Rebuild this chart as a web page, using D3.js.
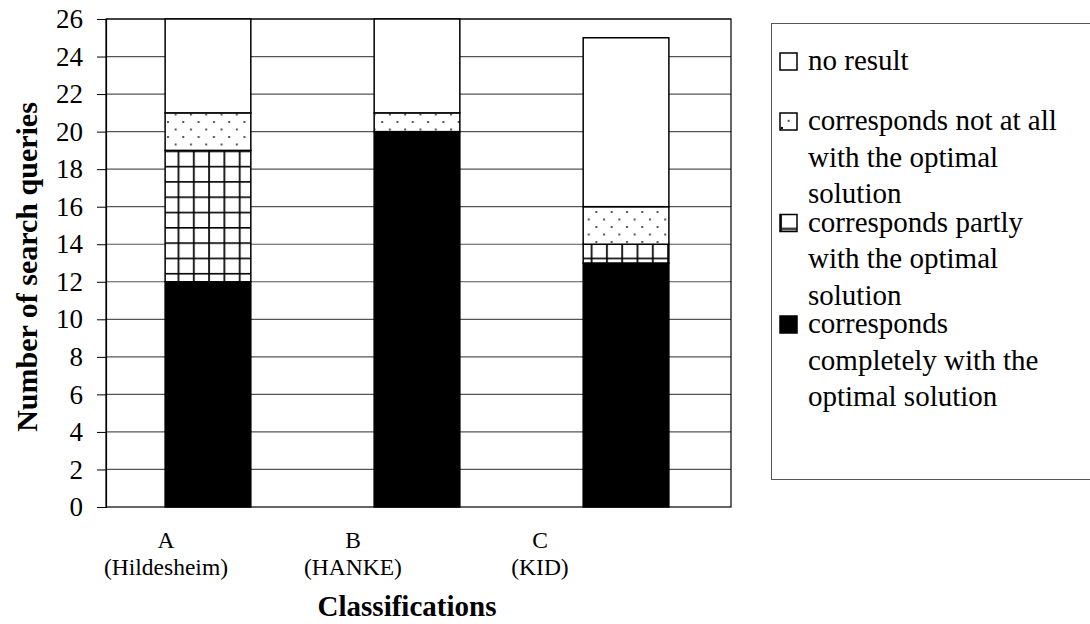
<!DOCTYPE html>
<html>
<head>
<meta charset="utf-8">
<script src="https://cdn.jsdelivr.net/npm/d3@7"></script>
<style>
  body { margin: 0; background: #fff; }
  text { font-family: "Liberation Serif", "Times New Roman", serif; fill: #000; }
</style>
</head>
<body>
<script>

// DATI

var categories = ["A", "B", "C"];
var categoryNames = ["(Hildesheim)", "(HANKE)", "(KID)"];
var complete = [12, 20, 13];
var partly = [7, 0, 1];
var notAtAll = [2, 1, 2];
var noResult = [5, 5, 9];
var yTicks = [0, 2, 4, 6, 8, 10, 12, 14, 16, 18, 20, 22, 24, 26];
var seriesKeys = ["complete", "partly", "notAtAll", "noResult"];
var legendLines = [
    ["no result"],
    ["corresponds not at all", "with the optimal", "solution"],
    ["corresponds partly", "with the optimal", "solution"],
    ["corresponds", "completely with the", "optimal solution"]
];
var legendKeys = ["noResult", "notAtAll", "partly", "complete"];

var width = 1090, height = 624;
var plotLeft = 106, plotRight = 731, plotTop = 19, plotBottom = 507;

var svg = d3.select("body").append("svg")
    .attr("width", width)
    .attr("height", height);

// PATTERN

var defs = svg.append("defs");

var dots = defs.append("pattern")
    .attr("id", "dots")
    .attr("patternUnits", "userSpaceOnUse")
    .attr("x", 166).attr("y", 120)
    .attr("width", 15.3).attr("height", 15);
dots.append("rect").attr("width", 15.3).attr("height", 15).attr("fill", "white");
dots.append("rect").attr("x", 1).attr("y", 1).attr("width", 2).attr("height", 2).attr("fill", "#555");
dots.append("rect").attr("x", 8.65).attr("y", 8.5).attr("width", 2).attr("height", 2).attr("fill", "#555");

var grid = defs.append("pattern")
    .attr("id", "grid")
    .attr("patternUnits", "userSpaceOnUse")
    .attr("x", 177.5).attr("y", 150.5)
    .attr("width", 15.3).attr("height", 15.3);
grid.append("rect").attr("width", 15.3).attr("height", 15.3).attr("fill", "white");
grid.append("rect").attr("x", 0).attr("y", 0).attr("width", 2).attr("height", 15.3).attr("fill", "#222");
grid.append("rect").attr("x", 0).attr("y", 0).attr("width", 15.3).attr("height", 1.6).attr("fill", "#000");

// pattern piccoli per la legenda
var dotsLegend = defs.append("pattern")
    .attr("id", "dotsLegend")
    .attr("patternUnits", "objectBoundingBox")
    .attr("patternContentUnits", "objectBoundingBox")
    .attr("width", 1).attr("height", 1);
dotsLegend.append("rect").attr("width", 1).attr("height", 1).attr("fill", "white");
dotsLegend.append("rect").attr("x", 0.45).attr("y", 0.4).attr("width", 0.12).attr("height", 0.12).attr("fill", "#555");
dotsLegend.append("rect").attr("x", 0.05).attr("y", 0.82).attr("width", 0.12).attr("height", 0.12).attr("fill", "#000");

var gridLegend = defs.append("pattern")
    .attr("id", "gridLegend")
    .attr("patternUnits", "objectBoundingBox")
    .attr("patternContentUnits", "objectBoundingBox")
    .attr("width", 1).attr("height", 1);
gridLegend.append("rect").attr("width", 1).attr("height", 1).attr("fill", "white");
gridLegend.append("rect").attr("x", 0).attr("y", 0.78).attr("width", 1).attr("height", 0.14).attr("fill", "#222");
gridLegend.append("rect").attr("x", 0).attr("y", 0).attr("width", 0.12).attr("height", 1).attr("fill", "#222");

var fills = {
    complete: "#000",
    partly: "url(#grid)",
    notAtAll: "url(#dots)",
    noResult: "#fff"
};

var legendFills = {
    complete: "#000",
    partly: "url(#gridLegend)",
    notAtAll: "url(#dotsLegend)",
    noResult: "#fff"
};

// SCALE

var x = d3.scaleBand()
    .domain(categories)
    .range([plotLeft, plotRight])
    .paddingInner(0.59)
    .paddingOuter(0.29);

var y = d3.scaleLinear()
    .domain([0, 26])
    .range([plotBottom, plotTop]);

var labelX = d3.scalePoint()
    .domain(categories)
    .range([166, 540]);

// GRIGLIA E ASSE Y

svg.append("g")
    .selectAll("line")
    .data(yTicks.slice(1))
    .join("line")
    .attr("x1", plotLeft).attr("x2", plotRight)
    .attr("y1", function(d) { return y(d); })
    .attr("y2", function(d) { return y(d); })
    .attr("stroke", "#555")
    .attr("stroke-width", 1.2);

svg.append("rect")
    .attr("x", plotLeft).attr("y", plotTop)
    .attr("width", plotRight - plotLeft).attr("height", plotBottom - plotTop)
    .attr("fill", "none")
    .attr("stroke", "#000")
    .attr("stroke-width", 1.2);

var yAxis = svg.append("g")
    .attr("transform", "translate(" + plotLeft + ",0)")
    .call(d3.axisLeft(y).tickValues(yTicks).tickSize(9).tickPadding(14));
yAxis.select(".domain").attr("stroke", "#000").attr("stroke-width", 1.2);
yAxis.selectAll("line").attr("stroke", "#000");
yAxis.selectAll("text")
    .style("font-family", "'Liberation Serif', 'Times New Roman', serif")
    .style("font-size", "27px");

// BARRE

var rows = categories.map(function(c, i) {
    return { cat: c, complete: complete[i], partly: partly[i], notAtAll: notAtAll[i], noResult: noResult[i] };
});

var stacked = d3.stack().keys(seriesKeys)(rows);

svg.append("g")
    .selectAll("g")
    .data(stacked)
    .join("g")
    .attr("fill", function(s) { return fills[s.key]; })
    .selectAll("rect")
    .data(function(s) { return s.filter(function(d) { return d[1] > d[0]; }); })
    .join("rect")
    .attr("x", function(d) { return x(d.data.cat) - 1.5; })
    .attr("y", function(d) { return y(d[1]); })
    .attr("width", x.bandwidth())
    .attr("height", function(d) { return y(d[0]) - y(d[1]); })
    .attr("stroke", "#000")
    .attr("stroke-width", 1.5);

// ETICHETTE CATEGORIE

var catLabels = svg.append("g")
    .selectAll("text")
    .data(categories)
    .join("text")
    .attr("text-anchor", "middle")
    .attr("font-size", "23.5px");
catLabels.append("tspan")
    .attr("x", function(d) { return labelX(d); })
    .attr("y", 548)
    .text(function(d) { return d; });
catLabels.append("tspan")
    .attr("x", function(d) { return labelX(d); })
    .attr("y", 575)
    .text(function(d, i) { return categoryNames[i]; });

// TITOLI ASSI

svg.append("text")
    .attr("x", 407).attr("y", 616)
    .attr("text-anchor", "middle")
    .attr("font-size", "29px")
    .attr("font-weight", "bold")
    .text("Classifications");

svg.append("text")
    .attr("transform", "translate(37,267) rotate(-90)")
    .attr("text-anchor", "middle")
    .attr("font-size", "30px")
    .attr("font-weight", "bold")
    .text("Number of search queries");

// LEGENDA

svg.append("rect")
    .attr("x", 771.5).attr("y", 23.5)
    .attr("width", 330).attr("height", 456)
    .attr("fill", "none")
    .attr("stroke", "#555")
    .attr("stroke-width", 1);

var legend = svg.append("g")
    .selectAll("g")
    .data(legendKeys)
    .join("g")
    .attr("transform", function(d, i) {
        var base = i === 0 ? 70 : 130 + (i - 1) * 101.5;
        return "translate(0," + base + ")";
    });

legend.append("rect")
    .attr("x", 780).attr("y", -17)
    .attr("width", 17).attr("height", 17)
    .attr("fill", function(d) { return legendFills[d]; })
    .attr("stroke", "#000")
    .attr("stroke-width", 1.5);

legend.append("text")
    .attr("font-size", "29px")
    .selectAll("tspan")
    .data(function(d, i) { return legendLines[i]; })
    .join("tspan")
    .attr("x", 808)
    .attr("y", function(d, j) { return j * 36.7; })
    .text(function(d) { return d; });

</script>
</body>
</html>
